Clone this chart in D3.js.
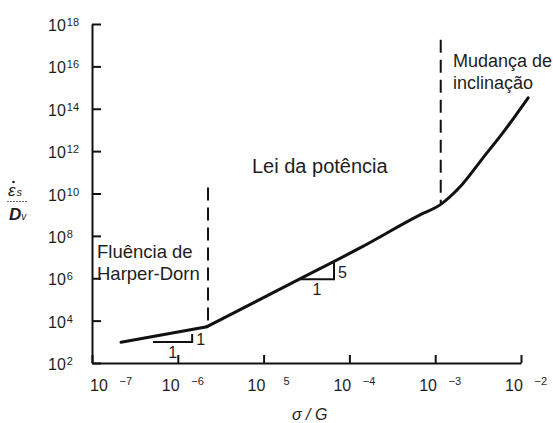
<!DOCTYPE html>
<html>
<head>
<meta charset="utf-8">
<script src="https://cdn.jsdelivr.net/npm/d3@7"></script>
<style>
  html, body { margin: 0; padding: 0; background: #fff; }
  svg { display: block; }
  text { font-family: "Liberation Sans", Arial, sans-serif; fill: #1e1e1e; }
</style>
</head>
<body>
<svg id="chart" width="553" height="423"></svg>
<script>
// Normalised steady-state creep rate versus normalised stress
const sigmaG     = [2.18e-7, 2.19e-6, 2.65e-5, 1.33e-4, 6.65e-4, 1.14e-3, 1.95e-3, 3.61e-3, 6.52e-3, 1.21e-2];
const strainRate = [950, 5.19e3, 9.29e5, 2.70e7, 9.8e8, 2.90e9, 2.06e10, 4.82e11, 1.01e13, 3.30e14];

// Tick values and their exponent labels
const xTicks    = [1e-7, 1e-6, 1e-5, 1e-4, 1e-3, 1e-2];
const xTickExps = ["\u22127", "\u22126", "5", "\u22124", "\u22123", "\u22122"];
const yTicks    = [1e2, 1e4, 1e6, 1e8, 1e10, 1e12, 1e14, 1e16, 1e18];
const yTickExps = ["2", "4", "6", "8", "10", "12", "14", "16", "18"];

// Regime boundaries (dashed verticals)
const boundaryX      = [2.25e-6, 1.16e-3];
const boundaryTop    = [1.9e10, 1.8e17];
const boundaryBottom = [6.0e3, 3.6e9];

// Slope triangles: [x0, x1] along the bottom, [yBottom, yTop] on the right side
const triX      = [[5.14e-7, 1.47e-6], [2.65e-5, 6.62e-5]];
const triY      = [[980, 2.35e3], [9.0e5, 5.3e6]];
const triRun    = ["1", "1"];
const triRise   = ["1", "5"];

// Regime names
const regimeLines = [["Flu\u00eancia de", "Harper-Dorn"], ["Lei da pot\u00eancia"], ["Mudan\u00e7a de", "inclina\u00e7\u00e3o"]];

const svg = d3.select("#chart");
const x = d3.scaleLog().domain([1e-7, 1e-2]).range([92, 521]);
const y = d3.scaleLog().domain([1e2, 1e18]).range([363, 24]);

// Axes: ticks point inward
const yAxis = d3.axisLeft(y).tickValues(yTicks).tickSizeInner(-9).tickSizeOuter(0).tickFormat("");
const xAxis = d3.axisBottom(x).tickValues(xTicks).tickSizeInner(-8).tickSizeOuter(0).tickFormat("");

const gy = svg.append("g").attr("transform", `translate(${x.range()[0]},0)`).call(yAxis);
const gx = svg.append("g").attr("transform", `translate(0,${y.range()[0]})`).call(xAxis);
[gx, gy].forEach(g => {
  g.selectAll("path, line").attr("stroke", "#111").attr("stroke-width", 2);
});

// Y tick labels: 10 with superscript exponent
yTicks.forEach((v, i) => {
  const t = svg.append("text")
    .attr("x", 48).attr("y", y(v) + 7)
    .attr("font-size", 16);
  t.append("tspan").text("10");
  t.append("tspan").attr("dx", 1).attr("dy", -5).attr("font-size", 11).text(yTickExps[i]);
});

// X tick labels
xTicks.forEach((v, i) => {
  const x0 = Math.max(x(v) - 16, x.range()[0] - 2);
  svg.append("text").attr("x", x0).attr("y", 391).attr("font-size", 16).text("10");
  svg.append("text").attr("x", x0 + 42).attr("y", 385).attr("font-size", 11)
    .attr("text-anchor", "end").text(xTickExps[i]);
});

// Axis titles: strain rate over diffusivity, as a fraction
const yt = svg.append("g").attr("font-style", "italic");
const ytop = yt.append("text").attr("x", 8).attr("y", 196).attr("font-size", 17);
ytop.append("tspan").text("\u03b5");
ytop.append("tspan").attr("dx", 1).attr("dy", 0).attr("font-size", 11).text("s");
yt.append("circle").attr("cx", 13.5).attr("cy", 182).attr("r", 1.3).attr("fill", "#1e1e1e");
yt.append("line").attr("x1", 7).attr("x2", 28).attr("y1", 201.5).attr("y2", 201.5)
  .attr("stroke", "#666").attr("stroke-width", 1).attr("stroke-dasharray", "2,1");
const ybot = yt.append("text").attr("x", 9).attr("y", 220).attr("font-size", 17).attr("font-weight", "bold");
ybot.append("tspan").text("D");
ybot.append("tspan").attr("dx", 0).attr("font-size", 10).attr("font-weight", "normal").text("v");

svg.append("text").attr("x", 292).attr("y", 420).attr("font-size", 16).attr("font-style", "italic")
  .text("\u03c3 / G");

// Regime boundaries
boundaryX.forEach((bx, i) => {
  svg.append("line")
    .attr("x1", x(bx)).attr("x2", x(bx))
    .attr("y1", y(boundaryTop[i])).attr("y2", y(boundaryBottom[i]))
    .attr("stroke", "#111").attr("stroke-width", 2)
    .attr("stroke-dasharray", "13,7");
});

// Creep-rate curve: straight Harper-Dorn leg, then a smooth curve from the
// Harper-Dorn / power-law transition onwards
const pts = sigmaG.map((s, i) => [x(s), y(strainRate[i])]);
const curveStyle = p => p.attr("fill", "none").attr("stroke", "#111").attr("stroke-width", 3)
  .attr("stroke-linecap", "round").attr("stroke-linejoin", "round");
svg.append("path").attr("d", d3.line()(pts.slice(0, 2))).call(curveStyle);
svg.append("path").attr("d", d3.line().curve(d3.curveMonotoneX)(pts.slice(1))).call(curveStyle);

// Slope triangles and their labels
triX.forEach((tx, i) => {
  const xa = x(tx[0]), xb = x(tx[1]), yb = y(triY[i][0]), yt2 = y(triY[i][1]);
  svg.append("path")
    .attr("d", `M${xa},${yb}H${xb}V${yt2}`)
    .attr("fill", "none").attr("stroke", "#111").attr("stroke-width", 2);
  svg.append("text").attr("x", (xa + xb) / 2).attr("y", yb + 16).attr("font-size", 16)
    .attr("text-anchor", "middle").text(triRun[i]);
  svg.append("text").attr("x", xb + 4).attr("y", (yb + yt2) / 2 + 7).attr("font-size", 16)
    .text(triRise[i]);
});

// Regime names
const regimePos = [[97, 258, 18.5], [252, 173, 20], [453, 67, 18]];
regimeLines.forEach((lines, i) => {
  const [px, py, fs] = regimePos[i];
  lines.forEach((s, j) => {
    svg.append("text").attr("x", px).attr("y", py + j * 22).attr("font-size", fs).text(s);
  });
});
</script>
</body>
</html>
